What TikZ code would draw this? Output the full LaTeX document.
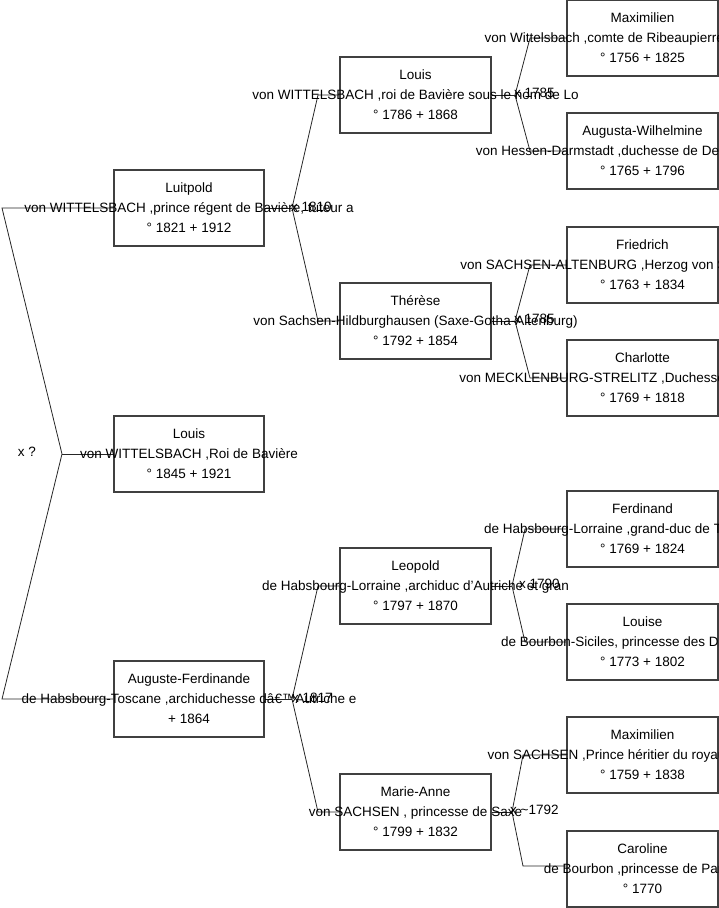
\documentclass[tikz,border=0pt]{standalone}
\usepackage{fontspec}
\setmainfont{Liberation Sans}
\begin{document}
\begin{tikzpicture}[x=1pt,y=-1pt,
  pbox/.style={draw=black!75, line width=1.1pt, minimum width=150pt, minimum height=76pt, inner sep=0pt},
  ptext/.style={align=center, font=\fontsize{13.5}{20}\selectfont, inner sep=0pt},
  conn/.style={draw=black!85, line width=0.8pt},
  mlabel/.style={font=\fontsize{13.5}{15}\selectfont, inner sep=0pt, anchor=west}]
\useasboundingbox (0,0) rectangle (719,908);
\clip (0,0) rectangle (719,908);

% generation 1
\node[pbox] (luitpold) at (189,208) {};
\node[pbox] (louisA) at (189,454) {};
\node[pbox] (auguste) at (189,699) {};
% generation 2
\node[pbox, minimum width=151pt] (louisB) at (415.5,95) {};
\node[pbox, minimum width=151pt] (therese) at (415.5,321) {};
\node[pbox, minimum width=151pt] (leopold) at (415.5,586) {};
\node[pbox, minimum width=151pt] (marie) at (415.5,812) {};
% generation 3
\node[pbox, minimum width=151pt] (maxA) at (642.5,38) {};
\node[pbox, minimum width=151pt] (augusta) at (642.5,151) {};
\node[pbox, minimum width=151pt] (friedrich) at (642.5,265) {};
\node[pbox, minimum width=151pt] (charlotte) at (642.5,378) {};
\node[pbox, minimum width=151pt] (ferdinand) at (642.5,529) {};
\node[pbox, minimum width=151pt] (louise) at (642.5,642) {};
\node[pbox, minimum width=151pt] (maxB) at (642.5,755) {};
\node[pbox, minimum width=151pt] (caroline) at (642.5,869) {};

% connector points
\coordinate (f0) at (62,454);
\coordinate (f0a) at (2,208);
\coordinate (f0b) at (2,699);
\coordinate (f1) at (292,208);
\coordinate (f1a) at (318,95);
\coordinate (f1b) at (318,321);
\coordinate (f2) at (292,699);
\coordinate (f2a) at (318,586);
\coordinate (f2b) at (318,812);
\coordinate (f3) at (515,95);
\coordinate (f3a) at (530,38);
\coordinate (f3b) at (530,151);
\coordinate (f4) at (515,321);
\coordinate (f4a) at (530,265);
\coordinate (f4b) at (530,378);
\coordinate (f5) at (512,586);
\coordinate (f5a) at (525,529);
\coordinate (f5b) at (525,642);
\coordinate (f6) at (512,812);
\coordinate (f6a) at (523,755);
\coordinate (f6b) at (523,866);

\draw[conn] (luitpold.west) -- (f0a) -- (f0) -- (f0b) -- (auguste.west);
\draw[conn] (f0) -- (louisA.west);
\draw[conn] (luitpold.east) -- (f1);
\draw[conn] (louisB.west) -- (f1a) -- (f1) -- (f1b) -- (therese.west);
\draw[conn] (auguste.east) -- (f2);
\draw[conn] (leopold.west) -- (f2a) -- (f2) -- (f2b) -- (marie.west);
\draw[conn] (louisB.east) -- (f3);
\draw[conn] (maxA.west) -- (f3a) -- (f3) -- (f3b) -- (augusta.west);
\draw[conn] (therese.east) -- (f4);
\draw[conn] (friedrich.west) -- (f4a) -- (f4) -- (f4b) -- (charlotte.west);
\draw[conn] (leopold.east) -- (f5);
\draw[conn] (ferdinand.west) -- (f5a) -- (f5) -- (f5b) -- (louise.west);
\draw[conn] (marie.east) -- (f6);
\draw[conn] (maxB.west) -- (f6a) -- (f6) -- (f6b) -- (caroline.west |- f6b);

% texts
\node[ptext] (tluitpold) at (luitpold) {Luitpold\\von WITTELSBACH ,prince régent de Bavière, tuteur a\\° 1821 + 1912};
\node[ptext] (tlouisA) at (louisA) {Louis\\von WITTELSBACH ,Roi de Bavière\\° 1845 + 1921};
\node[ptext] (tauguste) at (auguste) {Auguste-Ferdinande\\de Habsbourg-Toscane ,archiduchesse dâ€™Autriche e\\+ 1864};
\node[ptext] (tlouisB) at (louisB) {Louis\\von WITTELSBACH ,roi de Bavière sous le nom de Lo\\° 1786 + 1868};
\node[ptext] (ttherese) at (therese) {Thérèse\\von Sachsen-Hildburghausen (Saxe-Gotha-Altenburg)\\° 1792 + 1854};
\node[ptext] (tleopold) at (leopold) {Leopold\\de Habsbourg-Lorraine ,archiduc d'Autriche et gran\\° 1797 + 1870};
\node[ptext] (tmarie) at (marie) {Marie-Anne\\von SACHSEN , princesse de Saxe\\° 1799 + 1832};
\node[ptext] (tmaxA) at (maxA) {Maximilien\\von Wittelsbach ,comte de Ribeaupierre ,duc de Deu\\° 1756 + 1825};
\node[ptext] (taugusta) at (augusta) {Augusta-Wilhelmine\\von Hessen-Darmstadt ,duchesse de Deux-Ponts ,comt\\° 1765 + 1796};
\node[ptext] (tfriedrich) at (friedrich) {Friedrich\\von SACHSEN-ALTENBURG ,Herzog von Sachsen-Hildburg\\° 1763 + 1834};
\node[ptext] (tcharlotte) at (charlotte) {Charlotte\\von MECKLENBURG-STRELITZ ,Duchesse de Saxe-Hildbur\\° 1769 + 1818};
\node[ptext] (tferdinand) at (ferdinand) {Ferdinand\\de Habsbourg-Lorraine ,grand-duc de Toscane, archi\\° 1769 + 1824};
\node[ptext] (tlouise) at (louise) {Louise\\de Bourbon-Siciles, princesse des Deux-Siciles\\° 1773 + 1802};
\node[ptext] (tmaxB) at (maxB) {Maximilien\\von SACHSEN ,Prince héritier du royaume de Saxe\\° 1759 + 1838};
\node[ptext] (tcaroline) at (caroline) {Caroline\\de Bourbon ,princesse de Parme\\° 1770};

% marriage labels
\node[mlabel, anchor=center] (m0) at (27,452) {x ?};
\node[mlabel] (m1) at (291,207) {x 1810};
\node[mlabel] (m2) at (292,698) {x 1817};
\node[mlabel] (m3) at (514,93) {x 1785};
\node[mlabel] (m4) at (514,319) {x 1785};
\node[mlabel] (m5) at (519,584) {x 1790};
\node[mlabel] (m6) at (510,810) {x \textasciitilde1792};
\end{tikzpicture}
\end{document}
